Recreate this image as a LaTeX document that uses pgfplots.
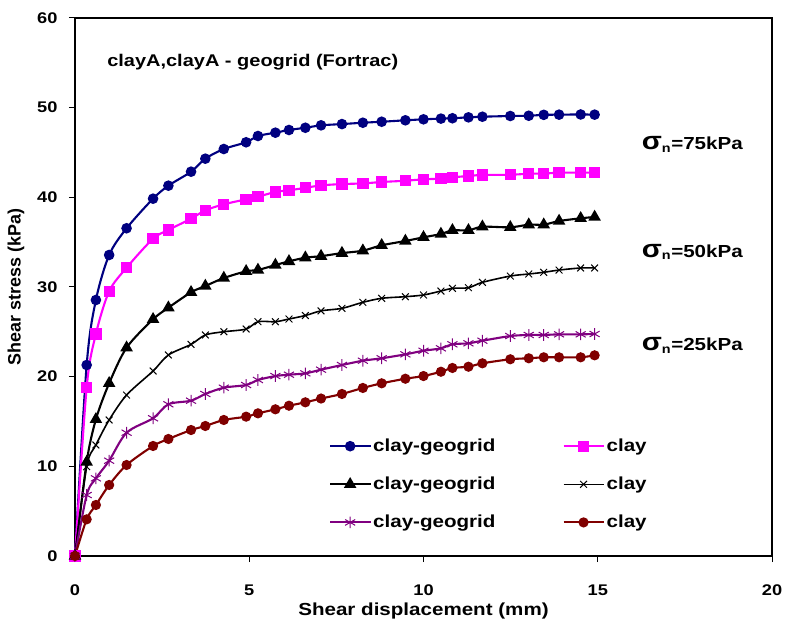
\documentclass[border=0pt]{standalone}
\usepackage{pgfplots}
\pgfplotsset{compat=1.18}
\usepackage{fontspec}
\setmainfont[FakeStretch=1.18]{Liberation Sans}
\newfontfamily\plainfont{Liberation Sans}
\usetikzlibrary{calc}
\definecolor{cnavy}{HTML}{000080}
\definecolor{cmag}{HTML}{FF00FF}
\definecolor{cpurp}{HTML}{800080}
\definecolor{cdred}{HTML}{800000}
\tikzset{dl/.style={line width=2.1bp, smooth, tension=0.5}}
\begin{document}
\begin{tikzpicture}
\begin{axis}[
  scale only axis, width=697bp, height=538bp,
  xmin=0, xmax=20, ymin=0, ymax=60,
  xtick={0,5,10,15,20}, ytick={0,10,20,30,40,50,60},
  tick align=outside, xtick pos=bottom, ytick pos=left,
  major tick length=6bp,
  tick style={line width=1bp, black},
  axis line style={line width=2bp},
  /pgf/number format/assume math mode=true,
  ticklabel style={font=\fontsize{15.5}{18}\selectfont\bfseries},
  xticklabel style={yshift=-19bp},
  yticklabel style={xshift=-8bp},
  xlabel={\fontsize{17.5}{20}\selectfont\bfseries Shear displacement (mm)},
  ylabel={\plainfont\fontsize{18}{20}\selectfont\bfseries Shear stress (kPa)},
  xlabel style={yshift=-1bp},
  ylabel style={yshift=6bp},
  clip=false,
  legend style={at={(rel axis cs:0.36,0.225)}, anchor=north west, draw=none, fill=none,
    font=\fontsize{17.5}{20}\selectfont\bfseries, row sep=20bp,
    /tikz/every even column/.append style={column sep=65bp}},
  legend columns=2,
  legend image code/.code={\draw[#1, mark repeat=2, mark phase=2] plot coordinates {(0bp,0bp) (20bp,0bp) (40bp,0bp)};},
]
\addplot[dl, color=cnavy, mark=*, mark size=4.2bp, mark options={solid, fill=cnavy}] coordinates {
(0,0) (0.335,21.3) (0.6,28.55) (0.98,33.57) (1.48,36.55) (2.24,39.85) (2.68,41.30) (3.33,42.86) (3.74,44.31) (4.27,45.39) (4.91,46.14) (5.25,46.84) (5.75,47.21) (6.14,47.51) (6.61,47.76) (7.06,48.03) (7.66,48.17) (8.26,48.32) (8.80,48.43) (9.48,48.59) (10.0,48.70) (10.5,48.78) (10.83,48.82) (11.29,48.92) (11.69,48.99) (12.49,49.07) (13.02,49.10) (13.45,49.2) (13.89,49.22) (14.51,49.24) (14.91,49.22)};
\addlegendentry{clay-geogrid}
\addplot[dl, color=cmag, mark=square*, mark size=4.6bp, mark options={solid, fill=cmag}] coordinates {
(0,0) (0.335,18.81) (0.6,24.76) (0.98,29.52) (1.48,32.15) (2.24,35.39) (2.68,36.36) (3.33,37.62) (3.74,38.55) (4.27,39.22) (4.91,39.78) (5.25,40.07) (5.75,40.6) (6.14,40.78) (6.61,41.06) (7.06,41.33) (7.66,41.48) (8.26,41.55) (8.80,41.71) (9.48,41.85) (10.0,42.01) (10.5,42.08) (10.83,42.23) (11.29,42.38) (11.69,42.5) (12.49,42.52) (13.02,42.63) (13.45,42.65) (13.89,42.75) (14.51,42.75) (14.91,42.75)};
\addlegendentry{clay}
\addplot[dl, color=black, mark=triangle*, mark size=5.2bp, mark options={solid, fill=black}] coordinates {
(0,0) (0.335,10.48) (0.6,15.24) (0.98,19.26) (1.48,23.23) (2.24,26.40) (2.68,27.69) (3.33,29.41) (3.74,30.11) (4.27,31.0) (4.91,31.75) (5.25,31.9) (5.75,32.45) (6.14,32.86) (6.61,33.27) (7.06,33.44) (7.66,33.78) (8.26,34.05) (8.80,34.65) (9.48,35.13) (10.0,35.54) (10.5,35.91) (10.83,36.32) (11.29,36.32) (11.69,36.72) (12.49,36.66) (13.02,36.95) (13.45,36.95) (13.89,37.36) (14.51,37.66) (14.91,37.81)};
\addlegendentry{clay-geogrid}
\addplot[dl, line width=1.6bp, color=black, mark=x, mark size=4.8bp, mark options={solid, line width=1bp}] coordinates {
(0,0) (0.335,9.96) (0.6,12.38) (0.98,15.17) (1.48,17.95) (2.24,20.63) (2.68,22.42) (3.33,23.6) (3.74,24.65) (4.27,25.01) (4.91,25.31) (5.25,26.13) (5.75,26.13) (6.14,26.43) (6.61,26.82) (7.06,27.34) (7.66,27.62) (8.26,28.29) (8.80,28.74) (9.48,28.92) (10.0,29.11) (10.5,29.55) (10.83,29.85) (11.29,29.92) (11.69,30.52) (12.49,31.22) (13.02,31.45) (13.45,31.64) (13.89,31.89) (14.51,32.12) (14.91,32.12)};
\addlegendentry{clay}
\addplot[dl, color=cpurp, mark=asterisk, mark size=5.8bp, mark options={solid, line width=1bp}] coordinates {
(0,0) (0.335,6.80) (0.6,8.66) (0.98,10.63) (1.48,13.75) (2.24,15.36) (2.68,16.92) (3.33,17.32) (3.74,18.07) (4.27,18.77) (4.91,19.07) (5.25,19.63) (5.75,20.07) (6.14,20.22) (6.61,20.37) (7.06,20.78) (7.66,21.30) (8.26,21.78) (8.80,22.05) (9.48,22.49) (10.0,22.89) (10.5,23.16) (10.83,23.61) (11.29,23.72) (11.69,24.01) (12.49,24.53) (13.02,24.65) (13.45,24.65) (13.89,24.72) (14.51,24.72) (14.91,24.76)};
\addlegendentry{clay-geogrid}
\addplot[dl, color=cdred, mark=*, mark size=4bp, mark options={solid, fill=cdred}] coordinates {
(0,0) (0.335,4.09) (0.6,5.69) (0.98,7.92) (1.48,10.15) (2.24,12.27) (2.68,13.05) (3.33,14.05) (3.74,14.5) (4.27,15.17) (4.91,15.54) (5.25,15.91) (5.75,16.36) (6.14,16.76) (6.61,17.14) (7.06,17.56) (7.66,18.07) (8.26,18.74) (8.80,19.26) (9.48,19.77) (10.0,20.07) (10.5,20.55) (10.83,20.97) (11.29,21.11) (11.69,21.49) (12.49,21.94) (13.02,22.05) (13.45,22.16) (13.89,22.16) (14.51,22.16) (14.91,22.38)};
\addlegendentry{clay}
\node[anchor=west, inner sep=0pt, font=\fontsize{17}{20}\selectfont\bfseries] at (axis cs:0.92,55.1) {clayA,clayA - geogrid (Fortrac)};
\node[anchor=west, inner sep=0pt, font=\fontsize{17.5}{20}\selectfont\bfseries] at (axis cs:16.26,45.9) {{\fontsize{25}{26}\selectfont σ}\textsubscript{n}=75kPa};
\node[anchor=west, inner sep=0pt, font=\fontsize{17.5}{20}\selectfont\bfseries] at (axis cs:16.26,33.9) {{\fontsize{25}{26}\selectfont σ}\textsubscript{n}=50kPa};
\node[anchor=west, inner sep=0pt, font=\fontsize{17.5}{20}\selectfont\bfseries] at (axis cs:16.26,23.5) {{\fontsize{25}{26}\selectfont σ}\textsubscript{n}=25kPa};
\coordinate (bl) at (rel axis cs:0,0);
\coordinate (tr) at (rel axis cs:1,1);
\end{axis}
\pgfresetboundingbox
\path ($(bl)+(-75bp,-65bp)$) rectangle ($(tr)+(13bp,18bp)$);
\end{tikzpicture}
\end{document}
